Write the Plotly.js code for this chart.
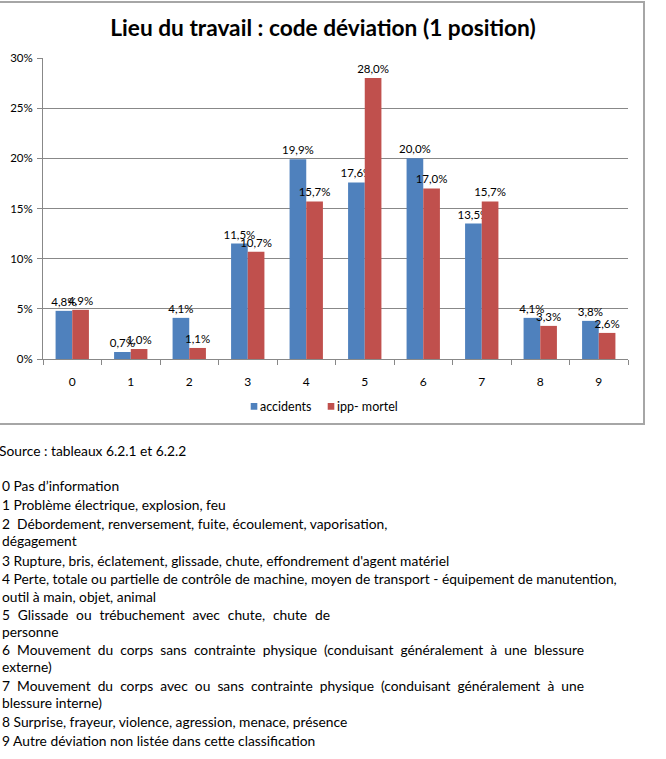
<!DOCTYPE html>
<html>
<head>
<meta charset="utf-8">
<script src="https://cdn.plot.ly/plotly-3.0.1.min.js"></script>
<style>
  html, body { margin:0; padding:0; background:#fff; width:666px; height:759px; overflow:hidden; position:relative; }
  #box { position:absolute; left:-10px; top:1px; width:655px; height:424px; border:2px solid #a6a6a6; box-sizing:border-box; }
  #chart { position:absolute; left:0; top:0; width:666px; height:430px; }
  .ln { position:absolute; left:2px; font-family:Lato, "Open Sans", sans-serif; font-size:13.8px; line-height:18px; color:#000; white-space:pre; }
  .just { white-space:normal; text-align:justify; text-align-last:justify; }
</style>
</head>
<body>
<div id="box"></div>
<div id="chart"></div>
<div id="notes"></div>
<script>
const categories = ['0','1','2','3','4','5','6','7','8','9'];
const accidents = [4.8, 0.7, 4.1, 11.5, 19.9, 17.6, 20.0, 13.5, 4.1, 3.8];
const ippMortel = [4.9, 1.0, 1.1, 10.7, 15.7, 28.0, 17.0, 15.7, 3.3, 2.6];
const seriesNames = ['accidents', 'ipp- mortel'];
const yTicks = [0, 5, 10, 15, 20, 25, 30];
const titleText = 'Lieu du travail : code déviation (1 position)';
const sourceText = 'Source : tableaux 6.2.1 et 6.2.2';
const noteLines = [
  '0 Pas d\u2019information',
  '1 Problème électrique, explosion, feu',
  '2  Débordement, renversement, fuite, écoulement, vaporisation,',
  'dégagement',
  '3 Rupture, bris, éclatement, glissade, chute, effondrement d\'agent matériel',
  '4 Perte, totale ou partielle de contrôle de machine, moyen de transport - équipement de manutention,',
  'outil à main, objet, animal',
  '5 Glissade ou trébuchement avec chute, chute de',
  'personne',
  '6 Mouvement du corps sans contrainte physique (conduisant généralement à une blessure',
  'externe)',
  '7 Mouvement du corps avec ou sans contrainte physique (conduisant généralement à une',
  'blessure interne)',
  '8 Surprise, frayeur, violence, agression, menace, présence',
  '9 Autre déviation non listée dans cette classification'
];

const fmt = v => v.toFixed(1).replace('.', ',') + '%';
const FONT = 'Lato, "Open Sans", sans-serif';

const traces = [
  { type:'bar', name:seriesNames[0], x:categories, y:accidents, legend:'legend',
    marker:{color:'#4F81BD'}, text:accidents.map(fmt), textposition:'outside',
    textfont:{family:FONT, size:11.5, color:'#000'}, constraintext:'none', cliponaxis:false, hoverinfo:'skip' },
  { type:'bar', name:seriesNames[1], x:categories, y:ippMortel, legend:'legend2',
    marker:{color:'#C0504D'}, text:ippMortel.map(fmt), textposition:'outside',
    textfont:{family:FONT, size:11.5, color:'#000'}, constraintext:'none', cliponaxis:false, hoverinfo:'skip' }
];

const legendBase = {orientation:'h', xanchor:'left', y:-0.1587, yanchor:'middle',
                    font:{family:FONT, size:12.5}, itemwidth:30, bgcolor:'rgba(0,0,0,0)'};

const layout = {
  width:666, height:430,
  margin:{l:43, r:38, t:58, b:71, autoexpand:false},
  paper_bgcolor:'rgba(0,0,0,0)', plot_bgcolor:'rgba(0,0,0,0)',
  font:{family:FONT, size:11, color:'#000'},
  title:{text:'<b>'+titleText+'</b>', font:{family:FONT, size:22.7, color:'#000'},
         x:0.485, xref:'container', y:1-28/430, yref:'container', xanchor:'center', yanchor:'middle'},
  barmode:'group', bargap:0.43, bargroupgap:0,
  xaxis:{type:'category', showline:true, linecolor:'#888', linewidth:1, ticks:'outside', tickson:'boundaries',
         ticklen:5, tickcolor:'#888', showgrid:false, ticklabelstandoff:12, tickfont:{family:FONT, size:12}},
  yaxis:{range:[0,30], tickvals:yTicks, ticktext:yTicks.map(v=>v+'%'), showline:true, linecolor:'#888', linewidth:1,
         ticks:'outside', ticklen:5, tickcolor:'#888', showgrid:true, gridcolor:'#888', gridwidth:1, zeroline:false,
         tickfont:{family:FONT, size:11.5}, ticklabelstandoff:2},
  showlegend:true,
  legend:Object.assign({}, legendBase, {x:0.3026}),
  legend2:Object.assign({}, legendBase, {x:0.4342}),
};

Plotly.newPlot('chart', traces, layout, {staticPlot:true}).then(() => {
  document.querySelectorAll('#chart .legendpoints path').forEach(p => {
    p.setAttribute('d', 'M3.3,3.3H-3.3V-3.3H3.3Z');
  });
  document.querySelectorAll('#chart .legendpoints').forEach(g => {
    g.setAttribute('transform', 'translate(14,0)');
  });
});

// notes below the chart
const notes = document.getElementById('notes');
const centers = [486, 505, 524, 541, 561, 579, 597, 615, 632, 650, 667, 686, 703, 722, 741];
const justifyWidths = {7:328, 9:582, 11:582};
const src = document.createElement('div');
src.className = 'ln'; src.style.left = '-1px'; src.style.top = (451-9)+'px'; src.textContent = sourceText;
notes.appendChild(src);
noteLines.forEach((t, i) => {
  const d = document.createElement('div');
  d.className = 'ln';
  d.style.top = (centers[i]-9)+'px';
  if (justifyWidths[i]) { d.classList.add('just'); d.style.width = justifyWidths[i]+'px'; }
  d.textContent = t;
  notes.appendChild(d);
});
</script>
</body>
</html>
